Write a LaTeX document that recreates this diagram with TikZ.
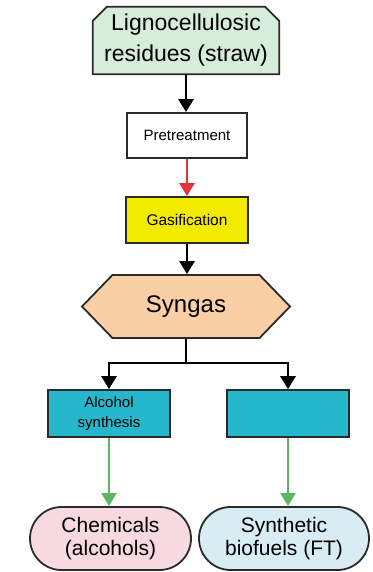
\documentclass[tikz,border=0pt]{standalone}
\usepackage{fontspec}
\setmainfont{Liberation Sans}
\usetikzlibrary{arrows.meta,shapes.misc,shapes.symbols,backgrounds}
\definecolor{feedfill}{HTML}{D6EDD9}
\definecolor{gasfill}{HTML}{F2EA00}
\definecolor{synfill}{HTML}{FBCFA5}
\definecolor{synthfill}{HTML}{27B7CD}
\definecolor{chemfill}{HTML}{F6D9E1}
\definecolor{fuelfill}{HTML}{D7ECF3}
\definecolor{edge}{HTML}{2A2A2A}
\definecolor{redarrow}{HTML}{E0363A}
\definecolor{greenarrow}{HTML}{5CB860}
\tikzset{
  box/.style={draw=edge, line width=1.8pt, inner sep=2pt, align=center},
  flow/.style={line width=2.8pt, draw=black, -{Triangle[width=15pt,length=13pt]}},
  plain/.style={line width=2.8pt, draw=black},
}
\begin{document}
\begin{tikzpicture}[x=1pt,y=-1pt]
\useasboundingbox (0,0) rectangle (372,572);
% feedstock: box with its two upper corners cut off
\node[align=center, minimum width=186pt, minimum height=67pt, inner sep=0pt,
      font=\fontsize{23}{31}\selectfont] (feed) at (186,40.5)
      {Lignocellulosic\\residues (straw)};
\begin{scope}[on background layer]
\filldraw[draw=edge, fill=feedfill, line width=1.8pt, line join=miter]
  (feed.south west) -- ([yshift=-14pt]feed.north west) -- ([xshift=14pt]feed.north west)
  -- ([xshift=-14pt]feed.north east) -- ([yshift=-14pt]feed.north east)
  -- (feed.south east) -- cycle;
\end{scope}
% process steps
\node[box, rectangle, fill=white, minimum width=120pt, minimum height=45pt,
      font=\fontsize{15}{17}\selectfont] (pre) at (187,135.5) {Pretreatment};
\node[box, rectangle, fill=gasfill, minimum width=122pt, minimum height=46pt,
      font=\fontsize{15.5}{17}\selectfont] (gas) at (187,220) {Gasification};
\node[box, signal, signal to=east and west, signal pointer angle=92,
      fill=synfill, minimum width=208pt, minimum height=63pt,
      font=\fontsize{24}{26}\selectfont] (syn) at (186,306.5) {Syngas};
\coordinate (split) at (186,363);
\node[box, rectangle, fill=synthfill, minimum width=122pt, minimum height=47pt,
      font=\fontsize{15}{20}\selectfont] (alc) at (109,413.5) {Alcohol\\synthesis};
\node[box, rectangle, fill=synthfill, minimum width=122pt, minimum height=47pt] (ft) at (288,413.5) {};
% products
\node[box, rounded rectangle, fill=chemfill, minimum width=165pt, minimum height=63pt,
      font=\fontsize{21}{23}\selectfont] (chem) at (110.5,538.5) {Chemicals\\(alcohols)};
\node[box, rounded rectangle, fill=fuelfill, minimum width=174pt, minimum height=63pt,
      font=\fontsize{21}{23}\selectfont] (fuel) at (284,538.5) {Synthetic\\biofuels (FT)};
% connectors
\draw[flow] (feed.south) -- (feed.south |- pre.north);
\draw[flow, draw=redarrow, fill=redarrow] (pre.south) -- (gas.north);
\draw[flow] (gas.south) -- (gas.south |- syn.north);
\draw[plain] (syn.south) -- (split);
\draw[flow] ([xshift=1.4pt]split) -| (alc.north);
\draw[flow] ([xshift=-1.4pt]split) -| (ft.north);
\draw[flow, draw=greenarrow, fill=greenarrow, line width=2pt] (alc.south) -- (alc.south |- chem.north);
\draw[flow, draw=greenarrow, fill=greenarrow, line width=2pt] (ft.south) -- (ft.south |- fuel.north);
\end{tikzpicture}
\end{document}
